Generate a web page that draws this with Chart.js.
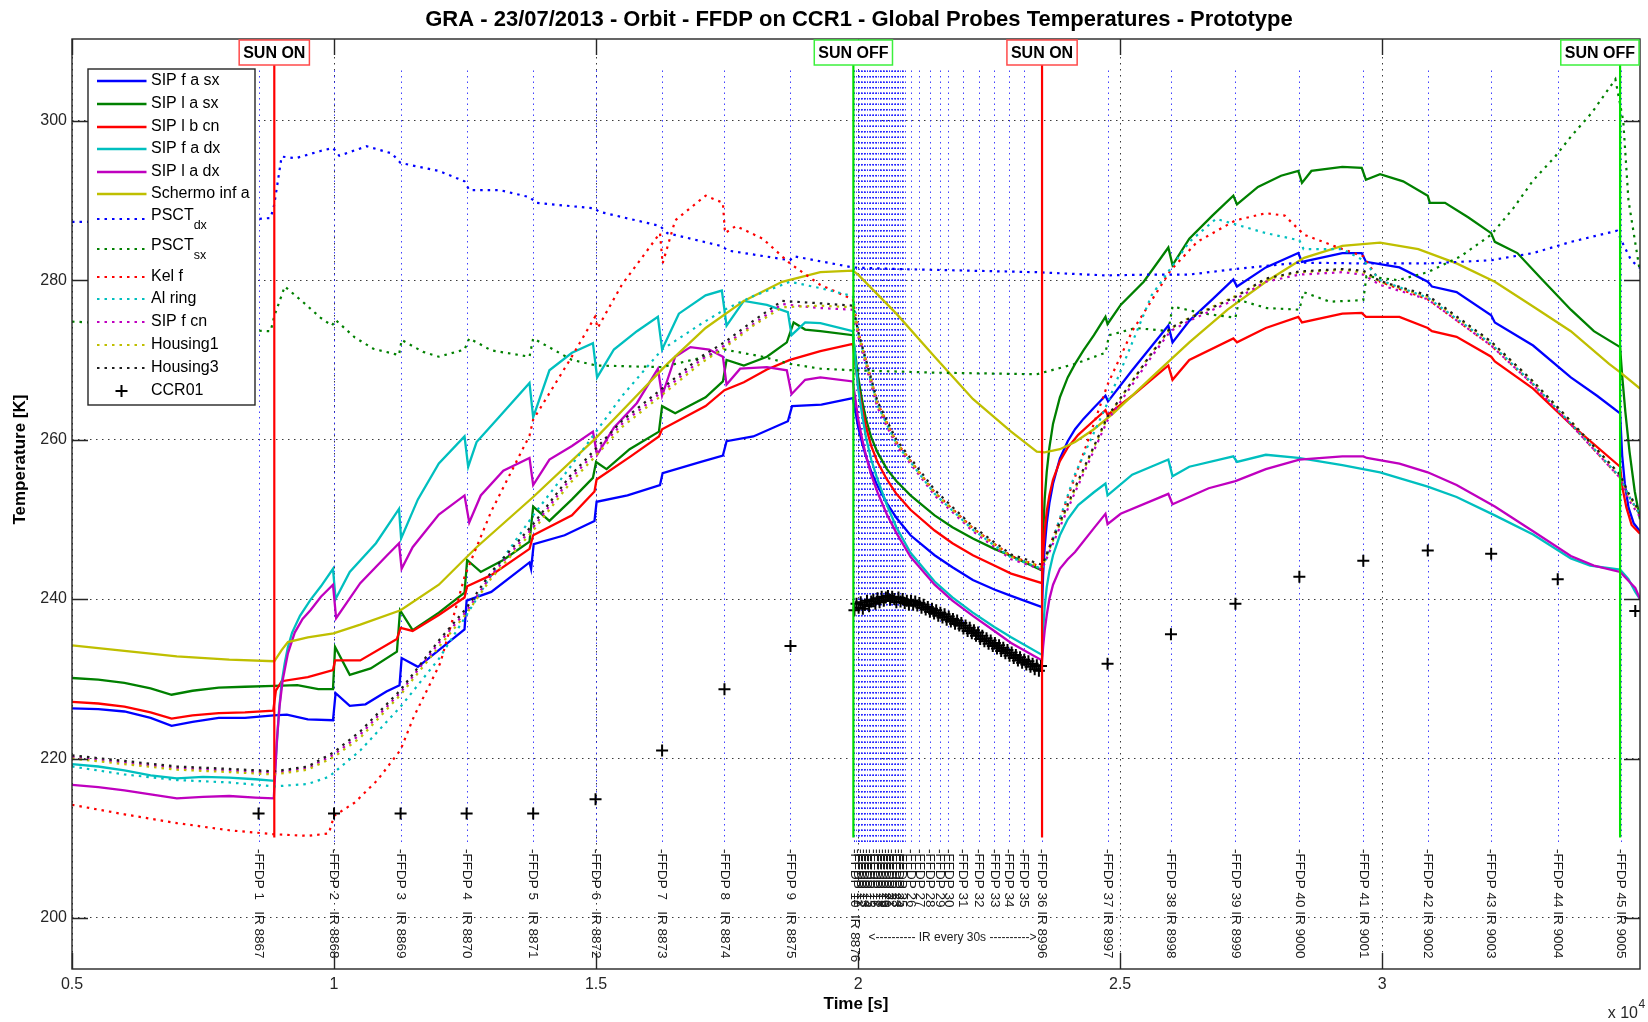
<!DOCTYPE html>
<html>
<head>
<meta charset="utf-8">
<script src="https://cdn.jsdelivr.net/npm/chart.js@4.4.1/dist/chart.umd.min.js"></script>
<style>
html,body{margin:0;padding:0;background:#fff;}
#wrap{width:1648px;height:1022px;position:relative;}
</style>
</head>
<body>
<div id="wrap"><canvas id="c" width="1648" height="1022"></canvas></div>
<script>
// ---------------- DATA (time in 10^4 s, temperature in K) ----------------
const xTicks = [0.5, 1, 1.5, 2, 2.5, 3];
const yTicks = [200, 220, 240, 260, 280, 300];

const sipFaSx = [[0.5,226.3],[0.55,226.2],[0.6,225.9],[0.65,225.1],[0.69,224.1],[0.73,224.6],[0.78,225.1],[0.83,225.1],[0.885,225.4],[0.91,225.5],[0.95,224.9],[0.998,224.8],[1.003,228.2],[1.03,226.6],[1.06,226.8],[1.1,228.4],[1.125,229.2],[1.129,232.6],[1.16,231.5],[1.2,233.6],[1.249,236.2],[1.253,239.8],[1.3,240.9],[1.373,244.6],[1.376,243.8],[1.381,246.9],[1.44,248.0],[1.497,249.8],[1.501,252.2],[1.56,253.0],[1.622,254.3],[1.627,255.8],[1.7,257.2],[1.742,258.0],[1.749,259.8],[1.8,260.4],[1.866,262.3],[1.874,264.2],[1.93,264.4],[1.99,265.2],[1.995,263.5],[2.0,261.6],[2.008,259.5],[2.015,257.9],[2.025,256.0],[2.037,254.2],[2.055,252.0],[2.073,250.2],[2.1,248.0],[2.146,245.5],[2.18,244.0],[2.219,242.4],[2.26,241.2],[2.292,240.4],[2.351,239.0],[2.353,243.0],[2.356,246.5],[2.36,249.5],[2.365,252.0],[2.372,254.5],[2.385,257.6],[2.4,259.8],[2.414,261.3],[2.43,262.6],[2.45,264.0],[2.472,265.5],[2.477,264.8],[2.523,268.7],[2.592,274.3],[2.6,272.2],[2.632,274.9],[2.676,277.6],[2.716,280.1],[2.723,279.2],[2.778,281.6],[2.84,283.4],[2.847,282.3],[2.924,283.4],[2.961,283.4],[2.969,282.3],[3.033,281.6],[3.087,279.8],[3.095,279.2],[3.142,278.5],[3.208,275.6],[3.215,274.7],[3.288,271.8],[3.36,267.8],[3.41,265.5],[3.454,263.3],[3.458,258.0],[3.463,254.5],[3.47,251.5],[3.48,249.5],[3.492,248.5]];

const sipLaSx = [[0.5,230.1],[0.55,229.9],[0.6,229.5],[0.65,228.8],[0.69,228.0],[0.73,228.5],[0.78,228.9],[0.83,229.0],[0.886,229.1],[0.93,229.2],[0.97,228.7],[0.998,228.7],[1.002,234.0],[1.03,230.5],[1.07,231.3],[1.12,233.4],[1.126,238.6],[1.15,236.1],[1.2,238.3],[1.249,240.8],[1.254,244.9],[1.28,243.4],[1.323,244.9],[1.373,247.2],[1.38,251.6],[1.411,249.8],[1.454,252.5],[1.494,255.2],[1.5,257.2],[1.52,256.3],[1.564,258.8],[1.62,261.0],[1.626,264.2],[1.651,263.3],[1.709,265.3],[1.742,267.3],[1.749,270.0],[1.782,269.3],[1.826,270.4],[1.864,272.2],[1.877,274.7],[1.899,273.8],[1.928,273.6],[1.99,273.1],[1.995,270.5],[2.0,267.9],[2.008,264.8],[2.015,262.6],[2.025,260.3],[2.037,258.4],[2.055,256.3],[2.073,254.8],[2.1,253.0],[2.146,250.5],[2.18,249.0],[2.219,247.6],[2.26,246.3],[2.292,245.4],[2.351,243.6],[2.353,248.0],[2.356,252.5],[2.36,256.0],[2.365,259.0],[2.372,262.0],[2.385,265.3],[2.4,267.8],[2.414,269.5],[2.43,271.2],[2.45,273.1],[2.472,275.4],[2.476,274.5],[2.501,276.9],[2.545,279.8],[2.592,284.1],[2.6,281.9],[2.632,285.2],[2.676,288.1],[2.716,290.6],[2.723,289.5],[2.763,291.7],[2.807,293.1],[2.84,293.7],[2.847,292.2],[2.865,293.7],[2.924,294.2],[2.961,294.1],[2.969,292.6],[2.996,293.3],[3.04,292.4],[3.087,290.6],[3.091,289.7],[3.12,289.7],[3.164,287.9],[3.208,285.9],[3.215,284.8],[3.258,283.4],[3.302,280.3],[3.36,276.3],[3.404,273.6],[3.454,271.6],[3.458,268.0],[3.464,263.5],[3.472,258.5],[3.482,253.5],[3.492,250.0]];

const sipLbCn = [[0.5,227.1],[0.55,226.9],[0.6,226.5],[0.65,225.8],[0.69,225.0],[0.73,225.4],[0.78,225.7],[0.83,225.8],[0.884,226.0],[0.889,228.5],[0.9,229.7],[0.95,230.2],[0.998,231.1],[1.002,232.3],[1.05,232.3],[1.12,235.0],[1.127,236.4],[1.15,236.0],[1.2,238.0],[1.249,240.2],[1.254,241.6],[1.3,243.0],[1.373,246.3],[1.38,248.0],[1.454,250.5],[1.497,253.5],[1.501,255.0],[1.564,257.8],[1.62,260.4],[1.626,261.3],[1.709,264.2],[1.745,266.2],[1.782,267.2],[1.826,268.8],[1.87,270.0],[1.928,271.1],[1.99,272.0],[1.995,269.3],[2.0,266.8],[2.008,263.8],[2.015,261.6],[2.025,259.2],[2.037,257.2],[2.055,255.0],[2.073,253.2],[2.1,251.2],[2.146,248.6],[2.18,247.0],[2.219,245.5],[2.26,244.2],[2.292,243.2],[2.351,242.0],[2.353,245.5],[2.356,248.5],[2.36,251.0],[2.365,253.0],[2.372,255.0],[2.385,257.3],[2.4,259.0],[2.42,260.6],[2.45,262.4],[2.472,263.7],[2.476,263.1],[2.523,265.5],[2.592,269.3],[2.6,267.5],[2.632,270.0],[2.716,272.7],[2.723,272.2],[2.778,274.0],[2.84,275.4],[2.847,274.7],[2.924,275.8],[2.961,275.9],[2.969,275.4],[3.033,275.4],[3.087,274.0],[3.095,273.6],[3.142,272.9],[3.208,270.4],[3.215,269.8],[3.288,266.4],[3.36,261.9],[3.454,256.6],[3.459,253.8],[3.466,251.5],[3.476,249.3],[3.492,248.2]];

const sipFaDx = [[0.5,219.3],[0.55,219.0],[0.6,218.5],[0.65,217.9],[0.7,217.5],[0.75,217.7],[0.8,217.6],[0.85,217.4],[0.886,217.2],[0.89,221.0],[0.895,226.0],[0.9,229.5],[0.906,232.0],[0.912,234.0],[0.92,235.8],[0.935,237.9],[0.955,239.9],[0.975,241.6],[0.998,243.8],[1.003,240.0],[1.03,243.4],[1.08,247.0],[1.124,251.3],[1.128,247.6],[1.16,252.5],[1.2,257.0],[1.249,260.4],[1.256,256.6],[1.272,259.7],[1.309,262.4],[1.373,267.1],[1.38,262.8],[1.411,268.7],[1.454,270.9],[1.494,272.1],[1.502,267.8],[1.534,271.3],[1.578,273.6],[1.618,275.4],[1.626,271.3],[1.658,275.8],[1.709,278.1],[1.74,278.7],[1.749,274.3],[1.782,277.4],[1.826,276.9],[1.866,276.0],[1.873,273.1],[1.899,274.7],[1.928,274.6],[1.99,273.6],[1.995,270.0],[2.0,266.5],[2.008,263.0],[2.015,260.3],[2.025,257.5],[2.037,255.0],[2.055,251.8],[2.073,249.0],[2.1,245.8],[2.146,242.2],[2.18,240.2],[2.219,238.3],[2.26,236.5],[2.292,235.2],[2.351,233.0],[2.353,236.0],[2.356,239.0],[2.36,241.5],[2.365,243.5],[2.372,245.5],[2.385,248.0],[2.4,250.0],[2.42,251.8],[2.45,253.4],[2.472,254.5],[2.476,253.0],[2.523,255.6],[2.592,257.5],[2.6,255.4],[2.632,256.6],[2.716,257.9],[2.723,257.2],[2.778,258.1],[2.84,257.7],[2.924,256.8],[2.996,255.9],[3.087,254.1],[3.142,252.8],[3.215,250.5],[3.288,248.1],[3.36,245.1],[3.397,244.2],[3.454,243.7],[3.47,242.5],[3.483,240.9],[3.492,240.0]];

const sipLaDx = [[0.5,216.7],[0.55,216.4],[0.6,216.0],[0.65,215.5],[0.7,215.0],[0.75,215.2],[0.8,215.3],[0.85,215.1],[0.885,215.0],[0.888,218.5],[0.891,222.3],[0.896,226.5],[0.902,229.8],[0.912,233.2],[0.925,235.8],[0.94,237.5],[0.955,238.6],[0.975,240.3],[0.998,241.8],[1.004,237.6],[1.05,242.0],[1.1,245.4],[1.124,247.0],[1.129,243.8],[1.15,246.5],[1.2,250.6],[1.249,253.0],[1.258,249.6],[1.28,253.0],[1.323,256.1],[1.373,257.7],[1.38,254.3],[1.411,257.5],[1.454,259.2],[1.494,261.0],[1.502,258.1],[1.534,261.5],[1.578,264.6],[1.618,268.9],[1.626,265.5],[1.651,270.4],[1.68,271.6],[1.716,271.3],[1.742,270.4],[1.749,266.9],[1.775,268.9],[1.826,269.1],[1.864,268.7],[1.873,265.7],[1.899,267.5],[1.928,267.8],[1.99,267.3],[1.995,265.0],[2.0,262.6],[2.008,260.0],[2.015,258.0],[2.025,255.6],[2.037,253.4],[2.055,250.6],[2.073,248.3],[2.1,245.3],[2.146,241.8],[2.18,239.8],[2.219,237.9],[2.26,236.0],[2.292,234.5],[2.351,232.3],[2.353,234.0],[2.356,236.0],[2.36,238.0],[2.365,240.0],[2.372,241.8],[2.385,243.8],[2.4,245.0],[2.414,245.9],[2.45,248.9],[2.472,250.7],[2.476,249.4],[2.501,250.7],[2.592,253.2],[2.6,251.9],[2.669,253.9],[2.72,254.8],[2.778,256.3],[2.842,257.5],[2.924,257.9],[2.964,257.9],[2.971,257.7],[3.033,257.0],[3.087,255.9],[3.142,254.3],[3.215,251.6],[3.288,248.5],[3.36,245.4],[3.404,244.2],[3.454,243.4],[3.483,241.4],[3.492,240.0]];

const schermoInfA = [[0.5,234.2],[0.6,233.5],[0.7,232.8],[0.8,232.4],[0.886,232.2],[0.9,233.6],[0.912,234.6],[0.95,235.2],[0.999,235.7],[1.05,236.8],[1.127,238.6],[1.2,241.8],[1.272,246.5],[1.38,252.8],[1.498,260.1],[1.564,264.6],[1.636,269.5],[1.709,274.0],[1.782,277.4],[1.855,279.8],[1.928,281.0],[1.99,281.2],[2.0,280.7],[2.073,275.8],[2.146,270.4],[2.219,265.1],[2.292,261.0],[2.341,258.5],[2.356,258.4],[2.385,258.8],[2.414,259.7],[2.45,261.3],[2.487,263.3],[2.56,267.8],[2.632,272.2],[2.705,276.3],[2.778,279.8],[2.851,282.8],[2.924,284.3],[2.996,284.7],[3.069,283.9],[3.142,282.1],[3.215,279.8],[3.288,276.7],[3.36,273.6],[3.433,269.5],[3.455,268.4],[3.492,266.4]];

const psctDx = [[0.5,287.3],[0.6,287.3],[0.7,287.2],[0.8,287.4],[0.879,287.8],[0.886,289.5],[0.9,295.5],[0.927,295.3],[0.974,296.2],[0.998,296.6],[1.01,295.6],[1.062,296.8],[1.11,295.9],[1.127,294.7],[1.2,293.7],[1.249,292.4],[1.258,291.3],[1.316,291.3],[1.374,290.4],[1.385,289.7],[1.498,289.0],[1.505,288.6],[1.622,286.8],[1.636,285.9],[1.738,284.3],[1.753,283.7],[1.87,282.5],[1.877,283.0],[1.99,281.6],[2.073,281.4],[2.341,281.0],[2.472,280.6],[2.56,280.7],[2.632,280.7],[2.72,281.4],[2.842,282.2],[2.964,282.1],[3.087,282.1],[3.208,282.5],[3.288,283.4],[3.36,284.8],[3.448,286.2],[3.46,284.5],[3.475,282.5],[3.492,281.5]];

const psctSx = [[0.5,274.8],[0.6,274.5],[0.7,274.0],[0.8,273.8],[0.879,273.6],[0.886,275.5],[0.906,279.2],[0.94,277.3],[0.974,275.3],[0.996,274.3],[1.003,275.0],[1.04,272.8],[1.075,271.4],[1.124,270.6],[1.129,272.5],[1.17,271.0],[1.2,270.4],[1.249,271.3],[1.258,272.7],[1.3,271.2],[1.373,270.4],[1.38,272.7],[1.454,270.0],[1.5,269.3],[1.56,269.2],[1.626,269.1],[1.709,270.4],[1.745,271.3],[1.818,270.4],[1.87,269.5],[1.928,268.9],[1.99,268.7],[2.146,268.4],[2.341,268.2],[2.414,269.5],[2.472,270.9],[2.479,273.1],[2.53,274.0],[2.592,273.6],[2.6,276.7],[2.66,275.8],[2.72,275.3],[2.727,277.5],[2.78,276.5],[2.842,276.3],[2.85,278.5],[2.9,277.3],[2.964,277.5],[2.97,280.5],[3.03,280.0],[3.087,281.0],[3.15,283.0],[3.208,285.7],[3.25,289.0],[3.288,292.5],[3.33,295.5],[3.36,298.0],[3.4,301.0],[3.445,305.2],[3.46,300.0],[3.47,290.0],[3.492,281.0]];

const kelF = [[0.5,214.2],[0.6,213.0],[0.7,211.9],[0.8,211.0],[0.886,210.5],[0.95,210.3],[0.99,210.6],[1.0,212.8],[1.04,214.5],[1.083,217.3],[1.127,221.1],[1.152,225.2],[1.203,232.0],[1.25,243.0],[1.3,251.0],[1.373,260.5],[1.38,262.5],[1.45,270.0],[1.498,275.4],[1.503,274.0],[1.549,279.4],[1.622,285.9],[1.627,282.1],[1.651,287.5],[1.709,290.6],[1.742,289.7],[1.746,285.9],[1.767,286.8],[1.818,285.2],[1.87,282.1],[1.928,279.4],[1.99,277.6],[2.0,273.6],[2.037,264.6],[2.073,259.7],[2.146,253.4],[2.219,248.9],[2.292,245.4],[2.351,244.0],[2.356,245.0],[2.385,250.0],[2.428,257.9],[2.476,266.9],[2.523,273.6],[2.596,281.2],[2.647,284.8],[2.72,287.5],[2.778,288.4],[2.814,288.1],[2.851,285.7],[2.924,283.9],[2.964,283.0],[2.996,279.8],[3.087,277.6],[3.208,271.8],[3.288,266.9],[3.36,261.9],[3.454,255.2],[3.47,253.0],[3.492,250.5]];

const alRing = [[0.5,219.0],[0.6,218.0],[0.7,217.3],[0.8,217.0],[0.886,216.5],[0.95,216.8],[0.99,217.7],[1.05,221.0],[1.127,226.5],[1.2,232.5],[1.253,238.0],[1.3,243.0],[1.38,250.5],[1.45,256.5],[1.5,261.0],[1.55,265.5],[1.626,271.3],[1.7,274.5],[1.745,276.3],[1.8,278.0],[1.87,279.8],[1.928,279.0],[1.99,278.0],[2.0,273.4],[2.037,264.3],[2.073,259.5],[2.146,253.2],[2.219,248.7],[2.292,245.2],[2.351,243.8],[2.356,244.5],[2.414,255.7],[2.476,264.6],[2.56,278.1],[2.632,284.8],[2.683,287.7],[2.72,287.0],[2.778,285.9],[2.842,285.0],[2.85,283.9],[2.924,283.9],[2.964,282.5],[2.996,280.0],[3.087,277.8],[3.208,272.0],[3.288,267.0],[3.36,262.0],[3.454,255.3],[3.47,253.0],[3.492,250.6]];

const sipFCn = [[0.5,220.2],[0.6,219.5],[0.7,218.8],[0.8,218.5],[0.886,218.2],[0.95,218.8],[1.0,220.5],[1.05,223.0],[1.127,228.3],[1.2,234.5],[1.253,238.5],[1.3,243.0],[1.38,249.0],[1.45,255.0],[1.5,258.5],[1.55,262.0],[1.626,266.0],[1.7,270.0],[1.745,271.8],[1.8,274.5],[1.855,277.0],[1.928,276.5],[1.99,276.3],[2.0,273.0],[2.037,264.0],[2.073,259.3],[2.146,253.0],[2.219,248.5],[2.292,245.0],[2.351,243.7],[2.356,244.5],[2.385,249.0],[2.414,253.4],[2.476,262.4],[2.56,270.4],[2.596,273.6],[2.632,274.9],[2.72,277.6],[2.778,279.8],[2.842,280.7],[2.924,281.0],[2.964,280.7],[2.996,279.4],[3.087,277.6],[3.208,271.8],[3.288,266.9],[3.36,261.9],[3.454,255.2],[3.47,252.5],[3.492,250.3]];

const housing1 = [[0.5,220.0],[0.6,219.3],[0.7,218.6],[0.8,218.3],[0.886,218.0],[0.95,218.6],[1.0,220.2],[1.05,222.6],[1.127,228.0],[1.2,234.0],[1.253,238.2],[1.3,242.6],[1.38,248.6],[1.45,254.5],[1.5,258.0],[1.55,261.6],[1.626,265.6],[1.7,269.6],[1.745,271.5],[1.8,274.3],[1.855,276.6],[1.928,276.8],[1.99,276.6],[2.0,273.3],[2.037,264.4],[2.073,259.6],[2.146,253.3],[2.219,248.8],[2.292,245.3],[2.351,244.0],[2.356,244.8],[2.385,249.4],[2.414,253.8],[2.476,262.8],[2.56,270.9],[2.596,273.9],[2.632,275.3],[2.72,278.0],[2.778,280.1],[2.842,281.0],[2.924,281.3],[2.964,281.0],[2.996,279.8],[3.087,277.9],[3.208,272.2],[3.288,267.3],[3.36,262.3],[3.454,255.6],[3.47,253.0],[3.492,250.8]];

const housing3 = [[0.5,220.4],[0.6,219.7],[0.7,219.0],[0.8,218.7],[0.886,218.4],[0.95,219.0],[1.0,220.8],[1.05,223.4],[1.127,228.6],[1.2,234.8],[1.253,238.9],[1.3,243.4],[1.38,249.4],[1.45,255.4],[1.5,258.9],[1.55,262.4],[1.626,266.4],[1.7,270.4],[1.745,272.2],[1.8,274.9],[1.855,277.4],[1.928,277.1],[1.99,276.8],[2.0,273.6],[2.037,264.8],[2.073,260.0],[2.146,253.7],[2.219,249.1],[2.292,245.6],[2.351,244.3],[2.356,245.0],[2.385,249.6],[2.414,254.0],[2.476,262.9],[2.56,270.8],[2.596,274.0],[2.632,275.2],[2.72,277.9],[2.778,280.2],[2.842,281.1],[2.924,281.4],[2.964,281.2],[2.996,279.9],[3.087,278.1],[3.208,272.3],[3.288,267.3],[3.36,262.3],[3.454,255.6],[3.47,253.3],[3.492,250.9]];

// CCR01 readings at each FFDP acquisition
const ccr01 = [[0.856,213.1],[1.0,213.1],[1.127,213.1],[1.253,213.1],[1.38,213.1],[1.499,214.9],[1.626,221.0],[1.745,228.7],[1.871,234.1],[2.476,231.9],[2.597,235.6],[2.72,239.4],[2.842,242.8],[2.964,244.8],[3.087,246.1],[3.208,245.7],[3.335,242.5],[3.483,238.5]];
// CCR01 during the "IR every 30s" phase (sampled from 1.993e4 s onward)
const ccrIrStart = 1.993, ccrIrStep = 0.004;
const ccrIrValues = [238.6,239.4,238.9,239.6,238.8,239.3,239.8,239.1,239.7,239.9,
239.4,240.1,239.6,240.3,239.8,240.2,240.4,239.9,240.3,240.0,
239.6,240.2,239.7,240.0,239.5,239.8,239.3,239.8,239.3,239.7,
239.2,239.5,238.9,239.3,238.7,239.0,238.4,238.8,238.2,238.6,
237.9,238.3,237.7,238.1,237.4,237.8,237.2,237.5,236.9,237.3,
236.7,237.0,236.3,236.7,236.0,236.4,235.7,236.1,235.4,235.8,
235.0,235.4,234.7,235.1,234.4,234.8,234.1,234.5,233.8,234.2,
233.5,233.9,233.2,233.6,232.9,233.3,232.6,233.0,232.3,232.7,
232.0,232.4,231.8,232.2,231.5,231.9,231.2,231.7,231.0,231.6];

// FFDP event times and labels
const ffdpX = [0.856,1.0,1.127,1.253,1.38,1.499,1.626,1.745,1.871,1.993,
1.999,2.005,2.011,2.017,2.023,2.029,2.035,2.041,2.047,2.053,2.059,2.065,2.071,2.077,2.083,
2.1,2.117,2.137,2.156,2.172,2.2,2.231,2.26,2.288,2.316,
2.351,2.476,2.597,2.72,2.842,2.964,3.087,3.208,3.335,3.455];
const ffdpLabels = ['-FFDP 1   IR 8867','-FFDP 2   IR 8868','-FFDP 3   IR 8869','-FFDP 4   IR 8870','-FFDP 5   IR 8871','-FFDP 6   IR 8872','-FFDP 7   IR 8873','-FFDP 8   IR 8874','-FFDP 9   IR 8875','-FFDP 10  IR 8876',
'-FFDP 11','-FFDP 12','-FFDP 13','-FFDP 14','-FFDP 15','-FFDP 16','-FFDP 17','-FFDP 18','-FFDP 19','-FFDP 20','-FFDP 21','-FFDP 22','-FFDP 23','-FFDP 24','-FFDP 25',
'-FFDP 26','-FFDP 27','-FFDP 28','-FFDP 29','-FFDP 30','-FFDP 31','-FFDP 32','-FFDP 33','-FFDP 34','-FFDP 35',
'-FFDP 36 IR 8996','-FFDP 37 IR 8997','-FFDP 38 IR 8998','-FFDP 39 IR 8999','-FFDP 40 IR 9000','-FFDP 41 IR 9001','-FFDP 42 IR 9002','-FFDP 43 IR 9003','-FFDP 44 IR 9004','-FFDP 45 IR 9005'];
// IR acquisitions every 30 s (dense markers)
const irStart = 1.993, irStep = 0.003, irCount = 33;

// Sun events
const sunX = [0.886, 1.991, 2.351, 3.454];
const sunLabels = ['SUN ON', 'SUN OFF', 'SUN ON', 'SUN OFF'];

// ---------------- STYLES ----------------
const COL = {blue:'#0000ff', green:'#008000', red:'#ff0000', cyan:'#00bfbf', magenta:'#bf00bf', olive:'#bfbf00', dark:'#1e1e1e'};
const DOT = [2.5, 5];
const FONT = '"Liberation Sans", Arial, Helvetica, sans-serif';

const series = [
  {label:'SIP f a sx', data:sipFaSx, color:COL.blue, dotted:false},
  {label:'SIP l a sx', data:sipLaSx, color:COL.green, dotted:false},
  {label:'SIP l b cn', data:sipLbCn, color:COL.red, dotted:false},
  {label:'SIP f a dx', data:sipFaDx, color:COL.cyan, dotted:false},
  {label:'SIP l a dx', data:sipLaDx, color:COL.magenta, dotted:false},
  {label:'Schermo inf a', data:schermoInfA, color:COL.olive, dotted:false},
  {label:'PSCT', sub:'dx', data:psctDx, color:COL.blue, dotted:true},
  {label:'PSCT', sub:'sx', data:psctSx, color:COL.green, dotted:true},
  {label:'Kel f', data:kelF, color:COL.red, dotted:true},
  {label:'Al ring', data:alRing, color:COL.cyan, dotted:true},
  {label:'SIP f cn', data:sipFCn, color:COL.magenta, dotted:true},
  {label:'Housing1', data:housing1, color:COL.olive, dotted:true},
  {label:'Housing3', data:housing3, color:COL.dark, dotted:true}
];

const datasets = series.map((s, i) => ({
  label: s.sub ? s.label + '_' + s.sub : s.label,
  data: s.data.map(p => ({x: p[0], y: p[1]})),
  borderColor: s.color,
  backgroundColor: s.color,
  borderWidth: s.dotted ? 2.2 : 2.3,
  borderDash: s.dotted ? DOT : [],
  pointRadius: 0,
  tension: 0,
  fill: false,
  order: 20 - i
}));
const ccrPoints = ccr01.map(p => ({x: p[0], y: p[1]}))
  .concat(ccrIrValues.map((v, i) => ({x: ccrIrStart + i * ccrIrStep, y: v})));
datasets.push({
  label: 'CCR01', data: ccrPoints, showLine: false,
  pointStyle: 'cross', pointRadius: 6, pointBorderWidth: 2,
  borderColor: '#000', backgroundColor: '#000', order: 0
});

// ---------------- OVERLAY PLUGIN ----------------
const overlay = {
  id: 'overlay',
  beforeDraw(chart) {
    const c = chart.ctx; c.save(); c.fillStyle = '#fff'; c.fillRect(0, 0, chart.width, chart.height); c.restore();
  },
  beforeDatasetsDraw(chart) {
    const {ctx, scales: {x, y}, chartArea: a} = chart;
    ctx.save();
    ctx.beginPath(); ctx.rect(a.left, a.top, a.right - a.left, a.bottom - a.top); ctx.clip();
    ctx.strokeStyle = 'rgba(30,30,255,0.85)'; ctx.lineWidth = 1; ctx.setLineDash([1.5, 4]);
    const yT = y.getPixelForValue(306.3), yB = y.getPixelForValue(209.3);
    const xs = ffdpX.slice();
    for (let i = 0; i < irCount; i++) xs.push(irStart + i * irStep);
    xs.forEach(v => {
      const px = Math.round(x.getPixelForValue(v)) + 0.5;
      ctx.beginPath(); ctx.moveTo(px, yT); ctx.lineTo(px, yB); ctx.stroke();
    });
    ctx.restore();
  },
  afterDatasetsDraw(chart) {
    const {ctx, scales: {x, y}, chartArea: a} = chart;
    ctx.save();
    ctx.lineWidth = 2.2;
    sunX.forEach((v, i) => {
      const px = x.getPixelForValue(v);
      ctx.strokeStyle = sunLabels[i] === 'SUN ON' ? '#ff0000' : '#00e000';
      ctx.beginPath(); ctx.moveTo(px, a.top + 26); ctx.lineTo(px, y.getPixelForValue(210.1)); ctx.stroke();
    });
    ctx.restore();
  },
  afterDraw(chart) {
    const {ctx, scales: {x, y}, chartArea: a} = chart;
    ctx.save();
    // axes box
    ctx.strokeStyle = '#262626'; ctx.lineWidth = 1.4; ctx.setLineDash([]);
    ctx.strokeRect(a.left, a.top, a.right - a.left, a.bottom - a.top);
    // inward ticks
    ctx.beginPath();
    yTicks.forEach(v => {
      const py = Math.round(y.getPixelForValue(v)) + 0.5;
      ctx.moveTo(a.left, py); ctx.lineTo(a.left + 16, py);
      ctx.moveTo(a.right, py); ctx.lineTo(a.right - 16, py);
    });
    xTicks.forEach(v => {
      const px = Math.round(x.getPixelForValue(v)) + 0.5;
      ctx.moveTo(px, a.bottom); ctx.lineTo(px, a.bottom - 16);
      ctx.moveTo(px, a.top); ctx.lineTo(px, a.top + 16);
    });
    ctx.stroke();

    // SUN boxes
    ctx.font = 'bold 16px ' + FONT; ctx.textAlign = 'center'; ctx.textBaseline = 'middle';
    sunX.forEach((v, i) => {
      const px = x.getPixelForValue(v);
      const w = ctx.measureText(sunLabels[i]).width + 8;
      let bx = px - w / 2;
      if (bx + w > a.right - 1) bx = a.right - 1 - w;
      const by = a.top + 1, bh = 25;
      ctx.fillStyle = '#fff'; ctx.fillRect(bx, by, w, bh);
      ctx.strokeStyle = sunLabels[i] === 'SUN ON' ? '#ff4a4a' : '#3cf03c'; ctx.lineWidth = 1.5;
      ctx.strokeRect(bx, by, w, bh);
      ctx.fillStyle = '#000'; ctx.fillText(sunLabels[i], bx + w / 2, by + bh / 2 + 1);
    });

    // FFDP labels (rotated)
    ctx.font = '13.5px ' + FONT; ctx.fillStyle = '#1a1a1a'; ctx.textAlign = 'left'; ctx.textBaseline = 'middle';
    const ly = y.getPixelForValue(208.65);
    ffdpX.forEach((v, i) => {
      const px = x.getPixelForValue(v);
      ctx.save(); ctx.translate(px, ly); ctx.rotate(Math.PI / 2); ctx.fillText(ffdpLabels[i], 0, 0); ctx.restore();
    });
    ctx.font = '12px ' + FONT; ctx.textAlign = 'center';
    ctx.fillText('<---------- IR every 30s ---------->', x.getPixelForValue(2.18), y.getPixelForValue(197.5));

    // Legend
    const lx = 88, ltop = 69, lw = 167, lh = 336;
    ctx.fillStyle = '#fff'; ctx.fillRect(lx, ltop, lw, lh);
    ctx.strokeStyle = '#262626'; ctx.lineWidth = 1.4; ctx.strokeRect(lx, ltop, lw, lh);
    const rowY = [81, 104, 127, 149, 172, 194, 219, 249, 277, 299, 322, 345, 368, 391];
    const entries = series.concat([{label:'CCR01', marker:true}]);
    entries.forEach((s, i) => {
      const ry = rowY[i];
      if (s.marker) {
        ctx.strokeStyle = '#000'; ctx.lineWidth = 2; ctx.setLineDash([]);
        ctx.beginPath(); ctx.moveTo(121.5 - 6, ry); ctx.lineTo(121.5 + 6, ry); ctx.moveTo(121.5, ry - 6); ctx.lineTo(121.5, ry + 6); ctx.stroke();
      } else {
        ctx.strokeStyle = s.color; ctx.lineWidth = s.dotted ? 2.2 : 2.3; ctx.setLineDash(s.dotted ? DOT : []);
        ctx.beginPath(); ctx.moveTo(97, ry); ctx.lineTo(146.5, ry); ctx.stroke();
      }
      ctx.setLineDash([]);
      ctx.fillStyle = '#000'; ctx.textAlign = 'left'; ctx.textBaseline = 'middle';
      ctx.font = '16px ' + FONT;
      if (s.sub) {
        ctx.fillText(s.label, 151, ry - 3);
        const w = ctx.measureText(s.label).width;
        ctx.font = '12.5px ' + FONT; ctx.fillText(s.sub, 151 + w, ry + 7);
      } else {
        ctx.fillText(s.label, 151, ry);
      }
    });

    // Title
    ctx.fillStyle = '#000'; ctx.textAlign = 'center'; ctx.textBaseline = 'middle';
    ctx.font = 'bold 22px ' + FONT;
    ctx.fillText('GRA - 23/07/2013 - Orbit - FFDP on CCR1 - Global Probes Temperatures - Prototype', 859, 20);
    // Axis titles
    ctx.font = 'bold 17px ' + FONT;
    ctx.fillText('Time [s]', (a.left + a.right) / 2, 1004);
    ctx.save(); ctx.translate(20, y.getPixelForValue(257.5)); ctx.rotate(-Math.PI / 2);
    ctx.fillText('Temperature [K]', 0, 0); ctx.restore();
    // exponent
    ctx.font = '16px ' + FONT; ctx.textAlign = 'right'; ctx.fillStyle = '#262626';
    ctx.fillText('x 10', 1638, 1014);
    ctx.font = '12px ' + FONT; ctx.textAlign = 'left';
    ctx.fillText('4', 1638.5, 1005);
    ctx.restore();
  }
};

// ---------------- CHART ----------------
const fixPad = s => { s.paddingTop = 0; s.paddingBottom = 0; s.paddingLeft = 0; s.paddingRight = 0; };
new Chart(document.getElementById('c').getContext('2d'), {
  type: 'line',
  data: {datasets},
  options: {
    responsive: false, animation: false, devicePixelRatio: 1,
    layout: {padding: {top: 39, right: 3, left: 0, bottom: 0}},
    plugins: {legend: {display: false}, tooltip: {enabled: false}, title: {display: false}},
    scales: {
      x: {
        type: 'linear', min: 0.5, max: 3.492,
        afterBuildTicks: s => { s.ticks = xTicks.map(v => ({value: v})); },
        afterFit: s => { s.height = 53; fixPad(s); },
        ticks: {callback: v => String(v), font: {family: FONT, size: 16}, color: '#262626', padding: 6, maxRotation: 0, autoSkip: false},
        grid: {color: '#3a3a3a', lineWidth: 1, drawTicks: false},
        border: {display: false, dash: [1.5, 4.5]}
      },
      y: {
        type: 'linear', min: 193.6, max: 310.25,
        afterBuildTicks: s => { s.ticks = yTicks.map(v => ({value: v})); },
        afterFit: s => { s.width = 72; fixPad(s); },
        ticks: {font: {family: FONT, size: 16}, color: '#262626', padding: 5},
        grid: {color: '#3a3a3a', lineWidth: 1, drawTicks: false},
        border: {display: false, dash: [1.5, 4.5]}
      }
    }
  },
  plugins: [overlay]
});
</script>
</body>
</html>
